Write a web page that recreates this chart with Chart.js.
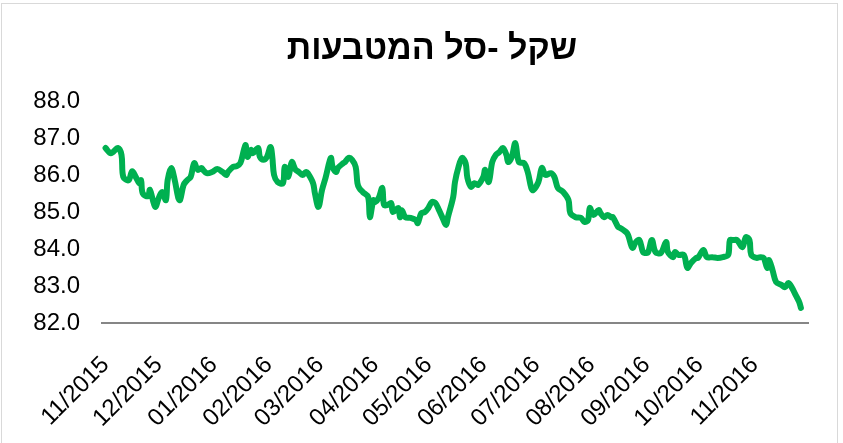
<!DOCTYPE html>
<html>
<head>
<meta charset="utf-8">
<script src="https://cdn.jsdelivr.net/npm/chart.js@4/dist/chart.umd.min.js"></script>
<style>
  html,body{margin:0;padding:0;background:#fff;}
  #wrap{position:relative;width:843px;height:443px;}
</style>
</head>
<body>
<div id="wrap"><canvas id="c" width="843" height="443"></canvas></div>
<script>
const chartTitle = 'שקל -סל המטבעות';

const dates = [
'2015-11-01','2015-11-04','2015-11-08','2015-11-10','2015-11-11','2015-11-14','2015-11-16','2015-11-18','2015-11-20','2015-11-21',
'2015-11-22','2015-11-25','2015-11-26','2015-11-29','2015-12-01','2015-12-03','2015-12-05','2015-12-06','2015-12-08','2015-12-10',
'2015-12-12','2015-12-13','2015-12-15','2015-12-17','2015-12-19','2015-12-21','2015-12-23','2015-12-25','2015-12-26','2015-12-28',
'2015-12-31','2016-01-03','2016-01-06','2016-01-08','2016-01-09','2016-01-12','2016-01-14','2016-01-16','2016-01-18','2016-01-19',
'2016-01-20','2016-01-22','2016-01-23','2016-01-26','2016-01-27','2016-01-29','2016-01-31','2016-02-02','2016-02-03','2016-02-04',
'2016-02-06','2016-02-09','2016-02-10','2016-02-12','2016-02-14','2016-02-16','2016-02-18','2016-02-20','2016-02-22','2016-02-23',
'2016-02-26','2016-02-27','2016-02-29','2016-03-02','2016-03-04','2016-03-07','2016-03-08','2016-03-10','2016-03-11','2016-03-14',
'2016-03-15','2016-03-17','2016-03-19','2016-03-21','2016-03-22','2016-03-23','2016-03-25','2016-03-28','2016-03-29','2016-03-31',
'2016-04-01','2016-04-03','2016-04-05','2016-04-06','2016-04-08','2016-04-10','2016-04-11','2016-04-14','2016-04-15','2016-04-16',
'2016-04-18','2016-04-21','2016-04-24','2016-04-25','2016-04-27','2016-04-29','2016-05-01','2016-05-03','2016-05-05','2016-05-07',
'2016-05-09','2016-05-11','2016-05-12','2016-05-15','2016-05-16','2016-05-18','2016-05-20','2016-05-22','2016-05-23','2016-05-25',
'2016-05-27','2016-05-29','2016-06-01','2016-06-02','2016-06-04','2016-06-06','2016-06-08','2016-06-10','2016-06-12','2016-06-14',
'2016-06-15','2016-06-17','2016-06-19','2016-06-21','2016-06-24','2016-06-26','2016-06-28','2016-06-29','2016-07-02','2016-07-04',
'2016-07-06','2016-07-09','2016-07-11','2016-07-13','2016-07-16','2016-07-19','2016-07-20','2016-07-23','2016-07-26','2016-07-28',
'2016-07-30','2016-07-31','2016-08-02','2016-08-05','2016-08-06','2016-08-08','2016-08-10','2016-08-12','2016-08-13','2016-08-16',
'2016-08-17','2016-08-19','2016-08-21','2016-08-22','2016-08-24','2016-08-26','2016-08-28','2016-08-30','2016-09-01','2016-09-02',
'2016-09-04','2016-09-06','2016-09-09','2016-09-12','2016-09-13','2016-09-16','2016-09-17','2016-09-19','2016-09-22','2016-09-24',
'2016-09-26','2016-09-29','2016-09-30','2016-10-03','2016-10-05','2016-10-08','2016-10-11','2016-10-14','2016-10-17','2016-10-18',
'2016-10-20','2016-10-22','2016-10-25','2016-10-27','2016-10-29','2016-10-30','2016-11-02','2016-11-04','2016-11-06','2016-11-08',
'2016-11-09','2016-11-11','2016-11-13','2016-11-16','2016-11-18','2016-11-20','2016-11-22','2016-11-24','2016-11-26','2016-11-27'
];

const values = [
86.73,86.59,86.73,86.54,85.95,85.86,86.10,85.95,85.78,85.86,
85.50,85.43,85.60,85.14,85.38,85.54,85.32,85.86,86.19,85.86,
85.38,85.32,85.73,85.86,85.95,86.32,86.14,86.19,86.14,86.05,
86.08,86.16,86.08,86.00,86.08,86.22,86.24,86.32,86.68,86.81,
86.49,86.68,86.59,86.73,86.49,86.41,86.49,86.76,86.49,86.00,
85.81,85.78,86.22,85.95,86.35,86.15,86.08,86.00,86.08,86.05,
85.78,85.51,85.14,85.59,85.92,86.46,86.22,86.08,86.19,86.32,
86.35,86.46,86.41,86.22,85.78,85.65,85.54,85.41,84.86,85.32,
85.27,85.38,85.65,85.19,85.19,85.24,85.00,85.11,84.86,85.05,
84.86,84.84,84.78,84.70,84.97,85.00,85.11,85.27,85.24,85.05,
84.84,84.65,84.86,85.41,85.81,86.22,86.46,86.32,85.92,85.68,
85.78,85.73,85.95,86.14,85.81,86.35,86.54,86.62,86.73,86.54,
86.35,86.49,86.86,86.35,86.32,86.08,85.65,85.59,85.81,86.19,
86.00,86.05,85.95,85.65,85.54,85.32,84.97,84.86,84.84,84.73,
84.78,85.11,84.92,85.05,84.97,84.86,84.92,84.86,84.86,84.59,
84.57,84.51,84.43,84.32,84.03,84.19,84.24,83.92,83.89,83.92,
84.24,83.92,83.89,84.19,83.92,83.78,83.92,83.84,83.84,83.49,
83.62,83.76,83.76,83.97,83.78,83.78,83.76,83.78,83.84,84.24,
84.24,84.24,84.05,84.32,84.24,83.84,83.76,83.78,83.76,83.49,
83.70,83.43,83.11,83.03,82.97,83.08,82.95,82.76,82.57,82.41
];

const monthLabels = ['11/2015','12/2015','01/2016','02/2016','03/2016','04/2016','05/2016',
                     '06/2016','07/2016','08/2016','09/2016','10/2016','11/2016'];
const axisStart = '2015-10-30';
const axisEnd = '2016-12-01';
const yMin = 82, yMax = 88, yStep = 1;

const BASE = Date.UTC(2015, 10, 1);
function dayOf(s){ const p = s.split('-').map(Number); return (Date.UTC(p[0], p[1]-1, p[2]) - BASE) / 86400000; }
function monthDay(lbl){ const p = lbl.split('/').map(Number); return (Date.UTC(p[1], p[0]-1, 1) - BASE) / 86400000; }

const points = dates.map((d, i) => ({x: dayOf(d), y: values[i]}));
const monthTicks = monthLabels.map(l => ({value: monthDay(l), label: l}));

const frameAndTitle = {
  id: 'frameAndTitle',
  beforeDraw(chart){
    const ctx = chart.ctx;
    ctx.save();
    ctx.fillStyle = '#ffffff';
    ctx.fillRect(0, 0, chart.width, chart.height);
    ctx.strokeStyle = '#d9d9d9';
    ctx.lineWidth = 1;
    ctx.strokeRect(1.5, 3.5, 836, 460);
    ctx.restore();
  },
  afterDraw(chart){
    const ctx = chart.ctx;
    ctx.save();
    ctx.font = 'bold 34px "Liberation Sans", Arial, sans-serif';
    ctx.fillStyle = '#000';
    ctx.textAlign = 'center';
    ctx.textBaseline = 'alphabetic';
    ctx.direction = 'rtl';
    ctx.fillText(chartTitle, 432, 59);
    ctx.restore();
  }
};

new Chart(document.getElementById('c'), {
  type: 'line',
  data: {
    datasets: [{
      data: points,
      borderColor: '#00b050',
      borderWidth: 6,
      pointRadius: 0,
      tension: 0.35,
      fill: false,
      borderCapStyle: 'round',
      borderJoinStyle: 'round'
    }]
  },
  options: {
    responsive: false,
    animation: false,
    devicePixelRatio: 1,
    layout: { padding: { top: 101, right: 35, bottom: 0, left: 0 } },
    plugins: { legend: { display: false }, title: { display: false }, tooltip: { enabled: false } },
    scales: {
      x: {
        type: 'linear',
        min: dayOf(axisStart),
        max: dayOf(axisEnd),
        grid: { display: false, drawTicks: false },
        border: { display: true, color: '#868686', width: 2 },
        afterBuildTicks(scale){ scale.ticks = monthTicks.map(t => ({value: t.value})); },
        afterFit(scale){ scale.height = 120; },
        ticks: {
          autoSkip: false,
          minRotation: 45,
          maxRotation: 45,
          padding: 28,
          color: '#000',
          font: { family: '"Liberation Sans", Arial, sans-serif', size: 24 },
          callback(v){ const t = monthTicks.find(m => m.value === v); return t ? t.label : ''; }
        }
      },
      y: {
        min: yMin,
        max: yMax,
        grid: { display: false, drawTicks: false },
        border: { display: false },
        afterFit(scale){ scale.width = 102; },
        ticks: {
          stepSize: yStep,
          padding: 22,
          color: '#000',
          font: { family: '"Liberation Sans", Arial, sans-serif', size: 24 },
          callback(v){ return Number(v).toFixed(1); }
        }
      }
    }
  },
  plugins: [frameAndTitle]
});
</script>
</body>
</html>
